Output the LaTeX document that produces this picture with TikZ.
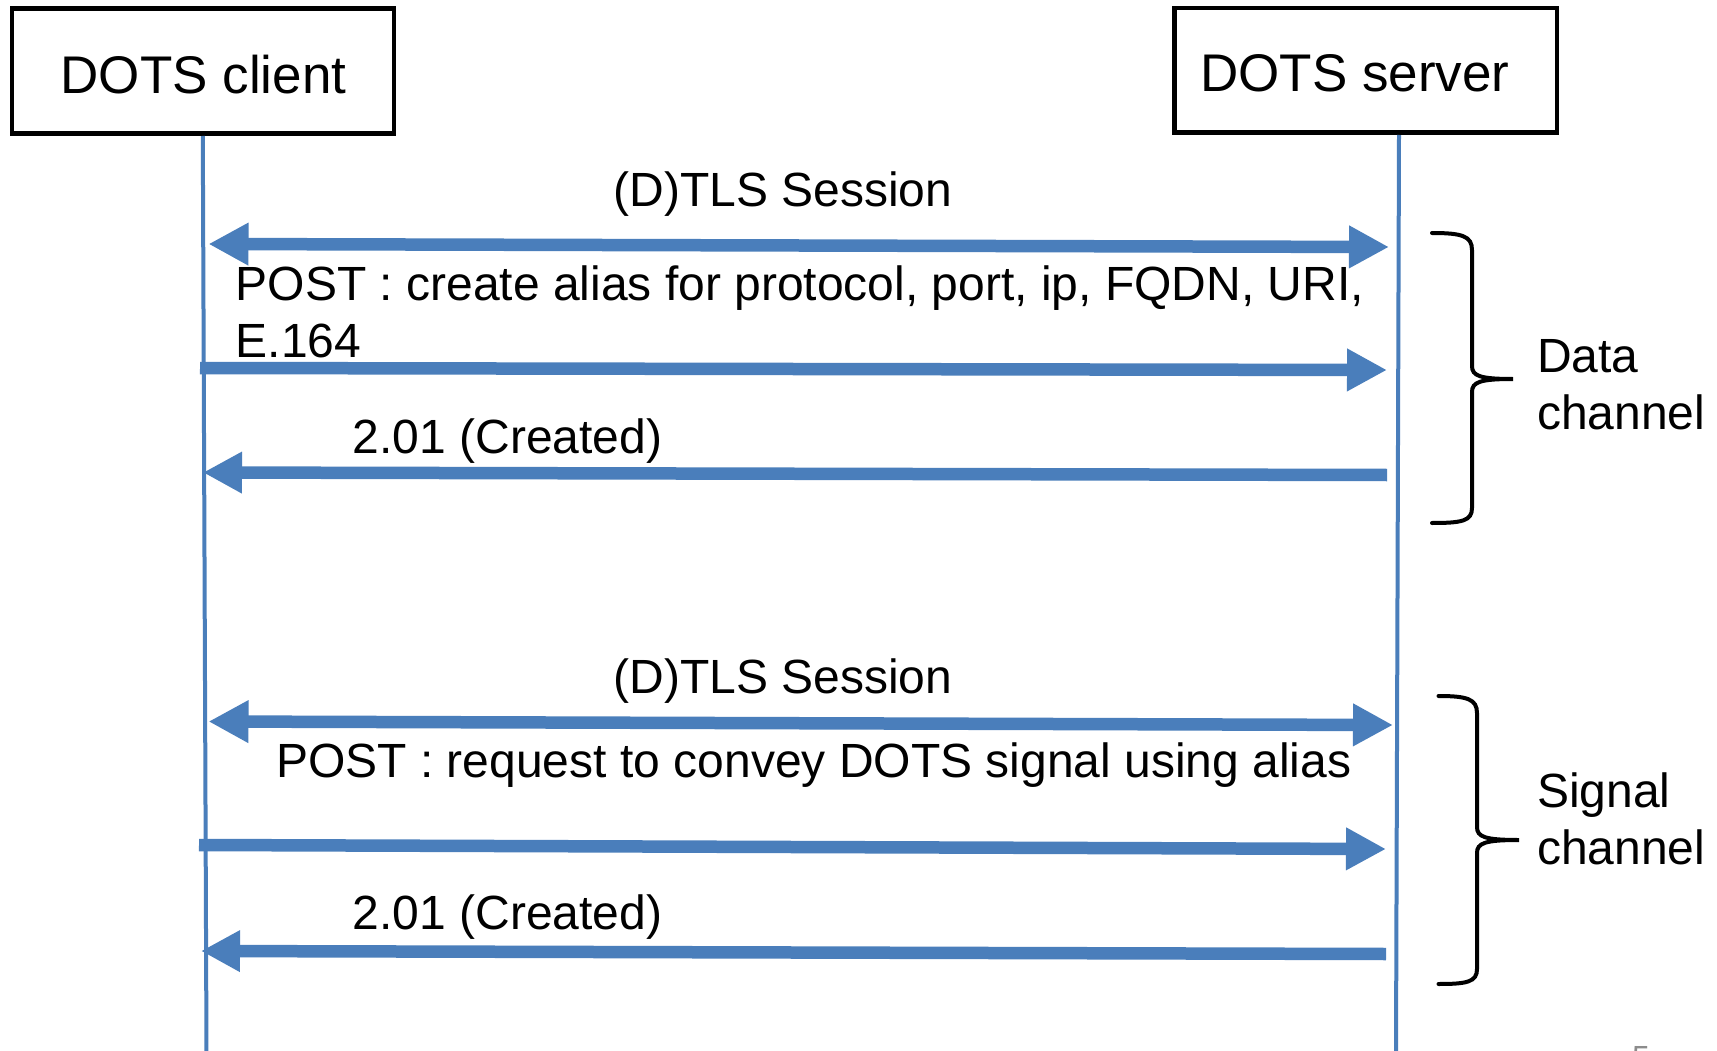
\documentclass[tikz,border=0pt]{standalone}
\usepackage{fontspec}
\setmainfont{Liberation Sans}
\usetikzlibrary{arrows.meta}
\definecolor{dotsblue}{HTML}{4A7EBB}
\definecolor{slidegray}{HTML}{8C8C8C}
\begin{document}
\begin{tikzpicture}[x=1pt,y=-1pt,
  actorbox/.style={draw=black, line width=4.5pt, inner sep=0pt, minimum width=382pt, minimum height=125pt},
  actorlbl/.style={inner sep=0pt, font=\fontsize{53}{62}\selectfont},
  msglbl/.style={inner sep=0pt, align=left, font=\fontsize{48}{57}\selectfont},
  lifeline/.style={draw=dotsblue, line width=4pt},
  msg/.style={draw=dotsblue, line width=12.5pt, -{Triangle[length=40pt,width=40pt]}},
  dblmsg/.style={draw=dotsblue, line width=12.5pt, {Triangle[length=40pt,width=40pt]}-{Triangle[length=40pt,width=40pt]}},
  reply/.style={draw=dotsblue, line width=12.5pt, -{Triangle[length=39pt,width=39pt]}},
  bracebar/.style={draw=black, line width=4pt, line cap=round}
]
\useasboundingbox (0,0) rectangle (1717,1051);
\fill[white] (0,0) rectangle (1717,1051);

% actors
\node[actorbox] (client) at (202.8,71) {};
\node[actorbox, minimum height=124.5pt, minimum width=382.5pt] (server) at (1365.5,70.5) {};
\node[actorlbl, anchor=base] (clientlbl) at (203.5,94) {DOTS client};
\node[actorlbl, anchor=base] (serverlbl) at (1355,92) {DOTS server};

% lifelines
\coordinate (ctop) at (202.8,136);
\coordinate (cbot) at (206.5,1053);
\coordinate (stop) at (1399,135);
\coordinate (sbot) at (1396,1053);
\draw[lifeline] (ctop) -- (cbot);
\draw[lifeline] (stop) -- (sbot);

% message end points
\coordinate (a1l) at (208.5,244);
\coordinate (a1r) at (1389,247);
\coordinate (a2l) at (200,368);
\coordinate (a2r) at (1387,370);
\coordinate (a3r) at (1387,475);
\coordinate (a3l) at (203,472.5);
\coordinate (a4l) at (208.5,721.5);
\coordinate (a4r) at (1393,725);
\coordinate (a5l) at (199,845);
\coordinate (a5r) at (1386,849);
\coordinate (a6r) at (1386,954);
\coordinate (a6l) at (201,951);

% data channel
\draw[dblmsg] (a1l) -- (a1r);
\draw[msg] (a2l) -- (a2r);
\draw[reply] (a3r) -- (a3l);
% signal channel
\draw[dblmsg] (a4l) -- (a4r);
\draw[msg] (a5l) -- (a5r);
\draw[reply] (a6r) -- (a6l);

% labels (multi-line nodes: base = baseline of the last line)
\node[msglbl, anchor=base] (t1) at (783,207) {(D)TLS Session};
\node[msglbl, anchor=base west] (p1) at (235.5,357) {POST : create alias for protocol, port, ip, FQDN, URI,\\E.164};
\node[msglbl, anchor=base west] (c1) at (352.5,453) {2.01 (Created)};
\node[msglbl, anchor=base] (t2) at (783,693) {(D)TLS Session};
\node[msglbl, anchor=base west] (p2) at (276,777.5) {POST : request to convey DOTS signal using alias};
\node[msglbl, anchor=base west] (c2) at (352.5,929) {2.01 (Created)};

% braces
\draw[bracebar] (1432,233) .. controls (1462,233) and (1472,236) .. (1472,250)
  -- (1472,366) .. controls (1472,376) and (1480,379) .. (1513,379)
  .. controls (1480,379) and (1472,382) .. (1472,392)
  -- (1472,508) .. controls (1472,521) and (1462,523) .. (1432,523);
\draw[bracebar] (1438.5,696) .. controls (1467,696) and (1477,699) .. (1477,713)
  -- (1477,827) .. controls (1477,837) and (1485,840) .. (1519,840)
  .. controls (1485,840) and (1477,843) .. (1477,853)
  -- (1477,969) .. controls (1477,982) and (1467,984) .. (1438.5,984);
\node[msglbl, anchor=base west] (datalbl) at (1537,429) {Data\\channel};
\node[msglbl, anchor=base west] (siglbl) at (1537,864) {Signal\\channel};

% slide number, cut by the page edge
\node[inner sep=0pt, anchor=base west, text=slidegray, font=\fontsize{32}{38}\selectfont] (slideno) at (1632,1068) {5};
\end{tikzpicture}
\end{document}
